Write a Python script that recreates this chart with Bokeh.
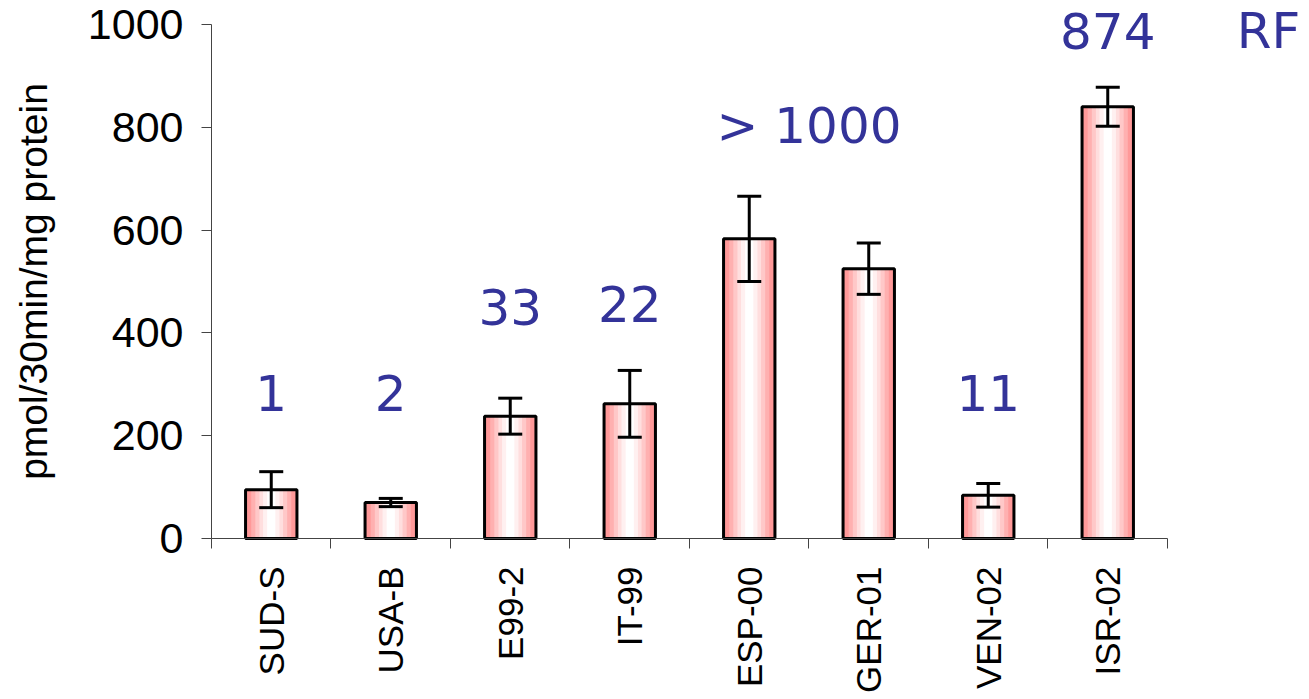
import math
from bokeh.plotting import figure
from bokeh.models import (Range1d, LinearAxis, FixedTicker,
                          Whisker, TeeHead, ColumnDataSource)
from bokeh.core.properties import value
from bokeh.embed import file_html
from bokeh.resources import INLINE

# ---- data ----
categories = ["SUD-S", "USA-B", "E99-2", "IT-99", "ESP-00", "GER-01", "VEN-02", "ISR-02"]
activity = [95, 70, 238, 262, 583, 525, 84, 840]
sd = [35, 8, 35, 65, 83, 50, 23, 38]
ratio_texts = ["1", "2", "33", "22", "> 1000", "11", "874"]
ratio_groups = [["SUD-S"], ["USA-B"], ["E99-2"], ["IT-99"], ["ESP-00", "GER-01"], ["VEN-02"], ["ISR-02"]]
ratio_y = [284, 284, 451, 457, 802, 284, 988]
y_ticks = [0, 200, 400, 600, 800, 1000]
y_max = 1000
y_label = "pmol/30min/mg protein"
corner_text = "RF"

FONT = "Liberation Sans"
ANN_FONT = "DejaVu Sans"
ANN_COLOR = "#333399"
AXIS_COLOR = "#444444"

n = len(categories)
idx = list(range(n))
src = ColumnDataSource(dict(
    x=idx,
    cat=categories,
    val=activity,
    upper=[v + e for v, e in zip(activity, sd)],
    lower=[v - e for v, e in zip(activity, sd)],
))

# the frame covers the whole canvas; axes are pinned inside it
p = figure(x_range=Range1d(-2.2657, 8.613), y_range=Range1d(-311.3, 1046.7),
           width=1300, height=698, output_backend="svg", toolbar_location=None,
           x_axis_location=None, y_axis_location=None,
           min_border=0, min_border_left=0, min_border_right=0,
           min_border_top=0, min_border_bottom=0)
p.grid.visible = False
p.outline_line_color = None
p.background_fill_color = "white"
p.border_fill_color = "white"

# x axis: ticks at category boundaries, pinned at y = 0
tick_axis = LinearAxis(ticker=FixedTicker(ticks=[i - 0.5 for i in range(n + 1)]),
                       bounds=(-0.5, n - 0.5), fixed_location=0,
                       major_label_text_font_size="1px", major_label_text_color=None,
                       minor_tick_line_color=None, major_tick_out=10, major_tick_in=0,
                       axis_line_color=AXIS_COLOR, major_tick_line_color=AXIS_COLOR,
                       major_label_standoff=0)
p.add_layout(tick_axis, "below")
# category labels at centres
cat_axis = LinearAxis(ticker=FixedTicker(ticks=idx), fixed_location=0,
                      major_label_overrides={i: c for i, c in zip(idx, categories)},
                      axis_line_color=None, major_tick_line_color=None, minor_tick_line_color=None,
                      major_tick_out=0, major_tick_in=0,
                      major_label_orientation=math.pi / 2,
                      major_label_text_font=FONT, major_label_text_font_size="35px",
                      major_label_text_color="black", major_label_standoff=28)
p.add_layout(cat_axis, "below")

# y axis pinned at the left edge of the first category
y_axis = LinearAxis(ticker=FixedTicker(ticks=y_ticks), bounds=(0, y_max), fixed_location=-0.5,
                    minor_tick_line_color=None, major_tick_out=10, major_tick_in=0,
                    axis_line_color=AXIS_COLOR, major_tick_line_color=AXIS_COLOR,
                    major_label_text_font=FONT, major_label_text_font_size="43px",
                    major_label_text_color="black", major_label_standoff=18)
p.add_layout(y_axis, "left")

p.text(x=[-1.99], y=[y_max / 2], text=[y_label], angle=math.pi / 2,
       text_font=value(FONT), text_font_size="39px", text_color="black",
       text_align="center", text_baseline="middle")

# bars with stripe gradient
bar_w = 0.43
layers = [(1.0, "#ff9999"), (0.78, "#ffb0b0"), (0.62, "#ffc8c8"), (0.46, "#ffdede"),
          (0.32, "#fff0f0"), (0.16, "#ffffff")]
for frac, col in layers:
    p.vbar(x="x", top="val", width=bar_w * frac, bottom=0, source=src,
           fill_color=col, line_color=None)
p.vbar(x="x", top="val", width=bar_w, bottom=0, source=src,
       fill_color=None, line_color="black", line_width=3)

p.add_layout(Whisker(source=src, base="x", upper="upper", lower="lower", level="overlay",
                     line_width=3, line_color="black",
                     upper_head=TeeHead(size=24, line_width=3, line_color="black"),
                     lower_head=TeeHead(size=24, line_width=3, line_color="black")))

# resistance-ratio annotations
ann_x = [sum(categories.index(c) for c in g) / len(g) for g in ratio_groups]
p.text(x=ann_x, y=ratio_y, text=ratio_texts,
       text_font=value(ANN_FONT), text_font_size="50px", text_color=ANN_COLOR,
       text_align="center", text_baseline="alphabetic")

p.text(x=[8.08], y=[988], text=[corner_text],
       text_font=value(ANN_FONT), text_font_size="50px", text_color=ANN_COLOR,
       text_align="left", text_baseline="alphabetic")

open("out.html", "w").write(file_html(p, INLINE))
